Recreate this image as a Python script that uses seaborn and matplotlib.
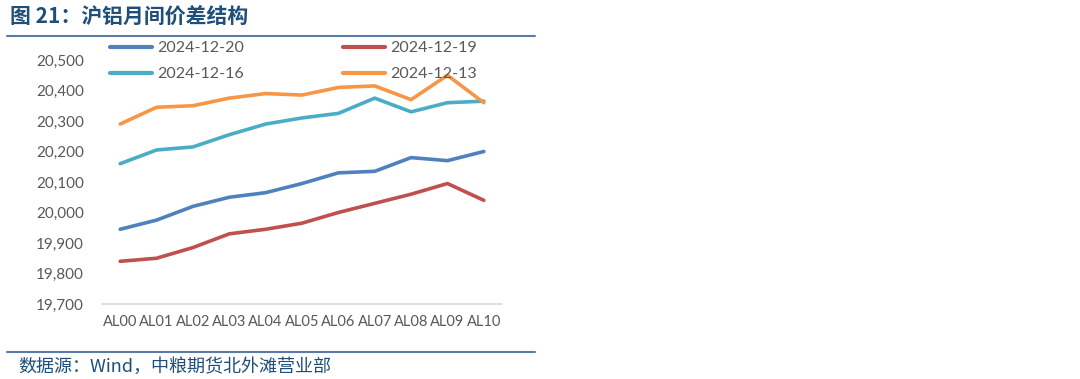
import matplotlib
matplotlib.use("Agg")
import matplotlib.pyplot as plt
import seaborn as sns
import pandas as pd
from matplotlib.ticker import FuncFormatter
from matplotlib.lines import Line2D

contracts = ["AL00", "AL01", "AL02", "AL03", "AL04", "AL05", "AL06", "AL07", "AL08", "AL09", "AL10"]
s_1220 = [19945, 19975, 20020, 20050, 20065, 20095, 20130, 20135, 20180, 20170, 20200]
s_1219 = [19840, 19850, 19885, 19930, 19945, 19965, 20000, 20030, 20060, 20095, 20040]
s_1216 = [20160, 20205, 20215, 20255, 20290, 20310, 20325, 20375, 20330, 20360, 20365]
s_1213 = [20290, 20345, 20350, 20375, 20390, 20385, 20410, 20415, 20370, 20450, 20360]
series_names = ["2024-12-20", "2024-12-19", "2024-12-16", "2024-12-13"]
colors = ["#4F81BD", "#C0504D", "#4BACC6", "#F79646"]

rows = []
for name, vals in zip(series_names, [s_1220, s_1219, s_1216, s_1213]):
    for c, v in zip(contracts, vals):
        rows.append({"contract": c, "price": v, "series": name})
df = pd.DataFrame(rows)

sns.set_theme(style="white")
plt.rcParams["font.family"] = ["Lato", "Noto Sans CJK SC", "DejaVu Sans"]

fig = plt.figure(figsize=(10.8, 3.79), dpi=100)
ax = fig.add_axes([102/1080, 1-304/379, 400/1080, 244/379])

sns.lineplot(data=df, x="contract", y="price", hue="series", hue_order=series_names,
             palette=colors, linewidth=2.6, sort=False, ax=ax, legend=False)

ax.set_xlim(-0.5, 10.5)
ax.set_ylim(19700, 20500)
ax.set_yticks(range(19700, 20501, 100))
ax.yaxis.set_major_formatter(FuncFormatter(lambda v, p: f"{int(v):,}"))
ax.set_xlabel("")
ax.set_ylabel("")
for s in ["top", "right", "left"]:
    ax.spines[s].set_visible(False)
ax.spines["bottom"].set_color("#D9D9D9")
ax.spines["bottom"].set_linewidth(1.2)
ax.tick_params(axis="both", length=0, colors="#595959")
ax.tick_params(axis="y", pad=13, labelsize=11)
ax.tick_params(axis="x", pad=8, labelsize=10.5)
ax.patch.set_alpha(0)

# legend: matplotlib fills columns first, so order for row-major display
order = [0, 2, 1, 3]
handles = [Line2D([0], [0], color=colors[i], lw=3) for i in order]
labels = [series_names[i] for i in order]
fig.legend(handles, labels, ncol=2, loc="upper left",
           bbox_to_anchor=(110/1080, 1-41/379), frameon=False,
           borderpad=0, borderaxespad=0,
           fontsize=11.5, labelcolor="#595959", handlelength=2.6,
           columnspacing=6.2, handletextpad=0.35, labelspacing=0.75)

# Title and rules
fig.text(10/1080, 1-17/379, "图 21：沪铝月间价差结构", fontsize=15, fontweight="bold",
         color="#1F4E79", va="center", ha="left",
         family=["Noto Sans CJK SC", "DejaVu Sans"])
fig.add_artist(Line2D([7/1080, 535/1080], [1-36/379, 1-36/379], color="#5B7BA6", lw=1.5))
fig.add_artist(Line2D([7/1080, 535/1080], [1-352/379, 1-352/379], color="#5B7BA6", lw=1.5))
fig.text(18/1080, 1-367/379, "数据源：Wind，中粮期货北外滩营业部", fontsize=13, style="italic",
         color="#1F4E79", va="center", ha="left",
         family=["Noto Sans CJK SC", "DejaVu Sans"])

fig.savefig("out.png", dpi=100)
